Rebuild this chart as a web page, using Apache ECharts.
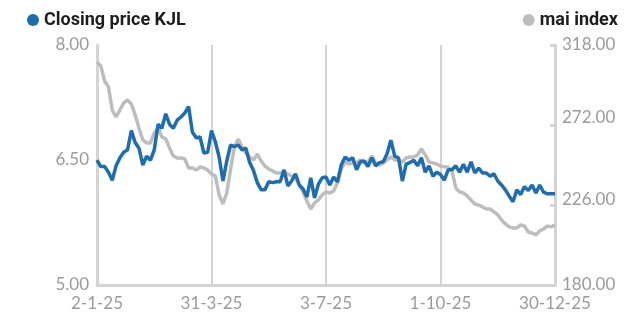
<!DOCTYPE html>
<html>
<head>
<meta charset="utf-8">
<script src="https://cdn.jsdelivr.net/npm/echarts@6/dist/echarts.min.js"></script>
<style>
    html, body { margin: 0; padding: 0; background: #fff; }
    #chart { width: 643px; height: 326px; }
</style>
</head>
<body>
<div id="chart"></div>
<script>
// tick labels on the x axis, one every 30 points
var tickLabels = ['2-1-25', '31-3-25', '3-7-25', '1-10-25', '30-12-25'];
var tickStep = 30;

// Closing price KJL (left axis)
var kjlPrice = [
    6.56, 6.48, 6.48, 6.41, 6.31, 6.49, 6.59, 6.66, 6.69, 6.93,
    6.78, 6.71, 6.50, 6.61, 6.56, 6.69, 7.01, 6.96, 7.14, 7.01,
    6.96, 7.06, 7.10, 7.15, 7.23, 6.91, 6.84, 6.85, 6.65, 6.66,
    6.93, 6.79, 6.60, 6.30, 6.55, 6.75, 6.73, 6.75, 6.69, 6.71,
    6.53, 6.43, 6.28, 6.19, 6.19, 6.29, 6.28, 6.29, 6.29, 6.44,
    6.24, 6.30, 6.39, 6.25, 6.20, 6.10, 6.34, 6.09, 6.26, 6.34,
    6.35, 6.25, 6.35, 6.29, 6.50, 6.60, 6.56, 6.59, 6.44, 6.54,
    6.55, 6.48, 6.59, 6.49, 6.53, 6.54, 6.64, 6.81, 6.61, 6.59,
    6.30, 6.51, 6.53, 6.56, 6.49, 6.59, 6.41, 6.49, 6.36, 6.41,
    6.38, 6.31, 6.44, 6.44, 6.49, 6.41, 6.51, 6.41, 6.54, 6.40,
    6.46, 6.40, 6.40, 6.36, 6.39, 6.30, 6.25, 6.19, 6.11, 6.04,
    6.19, 6.13, 6.23, 6.18, 6.25, 6.15, 6.25, 6.16, 6.14, 6.14,
    6.14
];

// mai index (right axis)
var maiIndex = [
    308.2, 305.9, 297.3, 293.9, 280.6, 276.6, 280.6, 284.7, 286.4, 284.1,
    277.8, 270.3, 263.4, 261.7, 261.7, 267.4, 270.3, 265.1, 264.0, 258.8,
    254.2, 253.0, 253.0, 252.5, 247.3, 247.3, 246.1, 247.9, 247.3, 246.1,
    243.8, 242.7, 231.8, 226.6, 232.9, 246.7, 259.4, 264.0, 259.4, 255.9,
    253.6, 251.9, 255.3, 251.3, 248.4, 246.7, 245.6, 244.4, 244.4, 245.0,
    243.8, 242.7, 241.5, 237.5, 233.5, 228.3, 223.7, 227.2, 228.9, 231.8,
    233.5, 232.9, 234.1, 238.7, 246.7, 250.7, 249.6, 250.2, 250.2, 251.9,
    250.2, 250.7, 254.2, 250.2, 249.0, 250.2, 251.9, 253.6, 251.9, 251.9,
    250.7, 253.0, 253.6, 253.6, 254.8, 258.2, 254.8, 250.7, 250.2, 249.6,
    248.4, 247.9, 247.9, 245.6, 235.8, 233.5, 232.9, 231.2, 228.9, 226.6,
    226.0, 224.9, 223.7, 223.7, 222.0, 220.3, 217.4, 215.1, 213.4, 212.8,
    212.8, 214.5, 213.9, 210.5, 209.9, 208.8, 211.1, 212.2, 213.9, 213.4,
    214.5
];

var categories = kjlPrice.map(function (v, i) {
    return i % tickStep === 0 ? tickLabels[i / tickStep] : '';
});

var axisColor = '#d4d4d4';
var labelColor = '#9b9b9b';
var fontFamily = 'Lato, "Noto Sans", sans-serif';

// the middle labels of the reference sit a few pixels above their linear spot
function shifted(text, up) {
    return up ? '{u' + up + '|' + text + '}' : text;
}
var labelRich = {
    u5: { padding: [0, 0, 10, 0] },
    u7: { padding: [0, 0, 14, 0] }
};

var legendText = { fontSize: 18, color: '#1e1e1e', fontFamily: 'Roboto, sans-serif', fontWeight: 'bold' };

var chart = echarts.init(document.getElementById('chart'));
var option = {
    animation: false,
    textStyle: { fontFamily: fontFamily },
    legend: [{
        data: ['Closing price KJL'],
        left: 22,
        top: 6,
        icon: 'circle',
        itemWidth: 12,
        itemHeight: 12,
        itemGap: 6,
        textStyle: legendText
    }, {
        data: ['mai index'],
        right: 20,
        top: 6,
        icon: 'circle',
        itemWidth: 12,
        itemHeight: 12,
        textStyle: legendText
    }],
    grid: { left: 97, right: 88, top: 45, bottom: 41 },
    xAxis: {
        type: 'category',
        data: categories,
        boundaryGap: false,
        axisLine: { lineStyle: { color: axisColor, width: 3 } },
        axisTick: { show: false },
        axisLabel: {
            interval: function (index) { return index % tickStep === 0; },
            color: labelColor,
            fontSize: 17,
            margin: 10
        },
        splitLine: {
            show: true,
            interval: function (index) { return index % tickStep === 0; },
            lineStyle: { color: axisColor, width: 2 }
        }
    },
    yAxis: [{
        type: 'value',
        min: 5,
        max: 8,
        interval: 1.5,
        axisLine: { show: true, lineStyle: { color: axisColor, width: 3 } },
        axisTick: { show: false },
        splitLine: { show: false },
        axisLabel: {
            color: labelColor,
            fontSize: 17,
            margin: 8,
            rich: labelRich,
            formatter: function (v) { return shifted(v.toFixed(2), v === 6.5 ? 5 : 0); }
        }
    }, {
        type: 'value',
        min: 180,
        max: 318,
        interval: 46,
        axisLine: { show: true, lineStyle: { color: axisColor, width: 3 } },
        axisTick: { show: true, inside: true, length: 5, lineStyle: { color: axisColor, width: 3 } },
        splitLine: { show: false },
        axisLabel: {
            color: labelColor,
            fontSize: 17,
            margin: 7,
            rich: labelRich,
            formatter: function (v) {
                var up = v === 272 ? 7 : (v === 226 ? 5 : 0);
                return shifted(v.toFixed(2), up);
            }
        }
    }],
    series: [{
        name: 'mai index',
        type: 'line',
        yAxisIndex: 1,
        data: maiIndex,
        showSymbol: false,
        color: '#bdbdbd',
        lineStyle: { width: 3.5, color: '#bdbdbd' }
    }, {
        name: 'Closing price KJL',
        type: 'line',
        yAxisIndex: 0,
        data: kjlPrice,
        showSymbol: false,
        color: '#1f6db1',
        lineStyle: { width: 3.5, color: '#1f6db1' }
    }]
};
chart.setOption(option);
</script>
</body>
</html>
